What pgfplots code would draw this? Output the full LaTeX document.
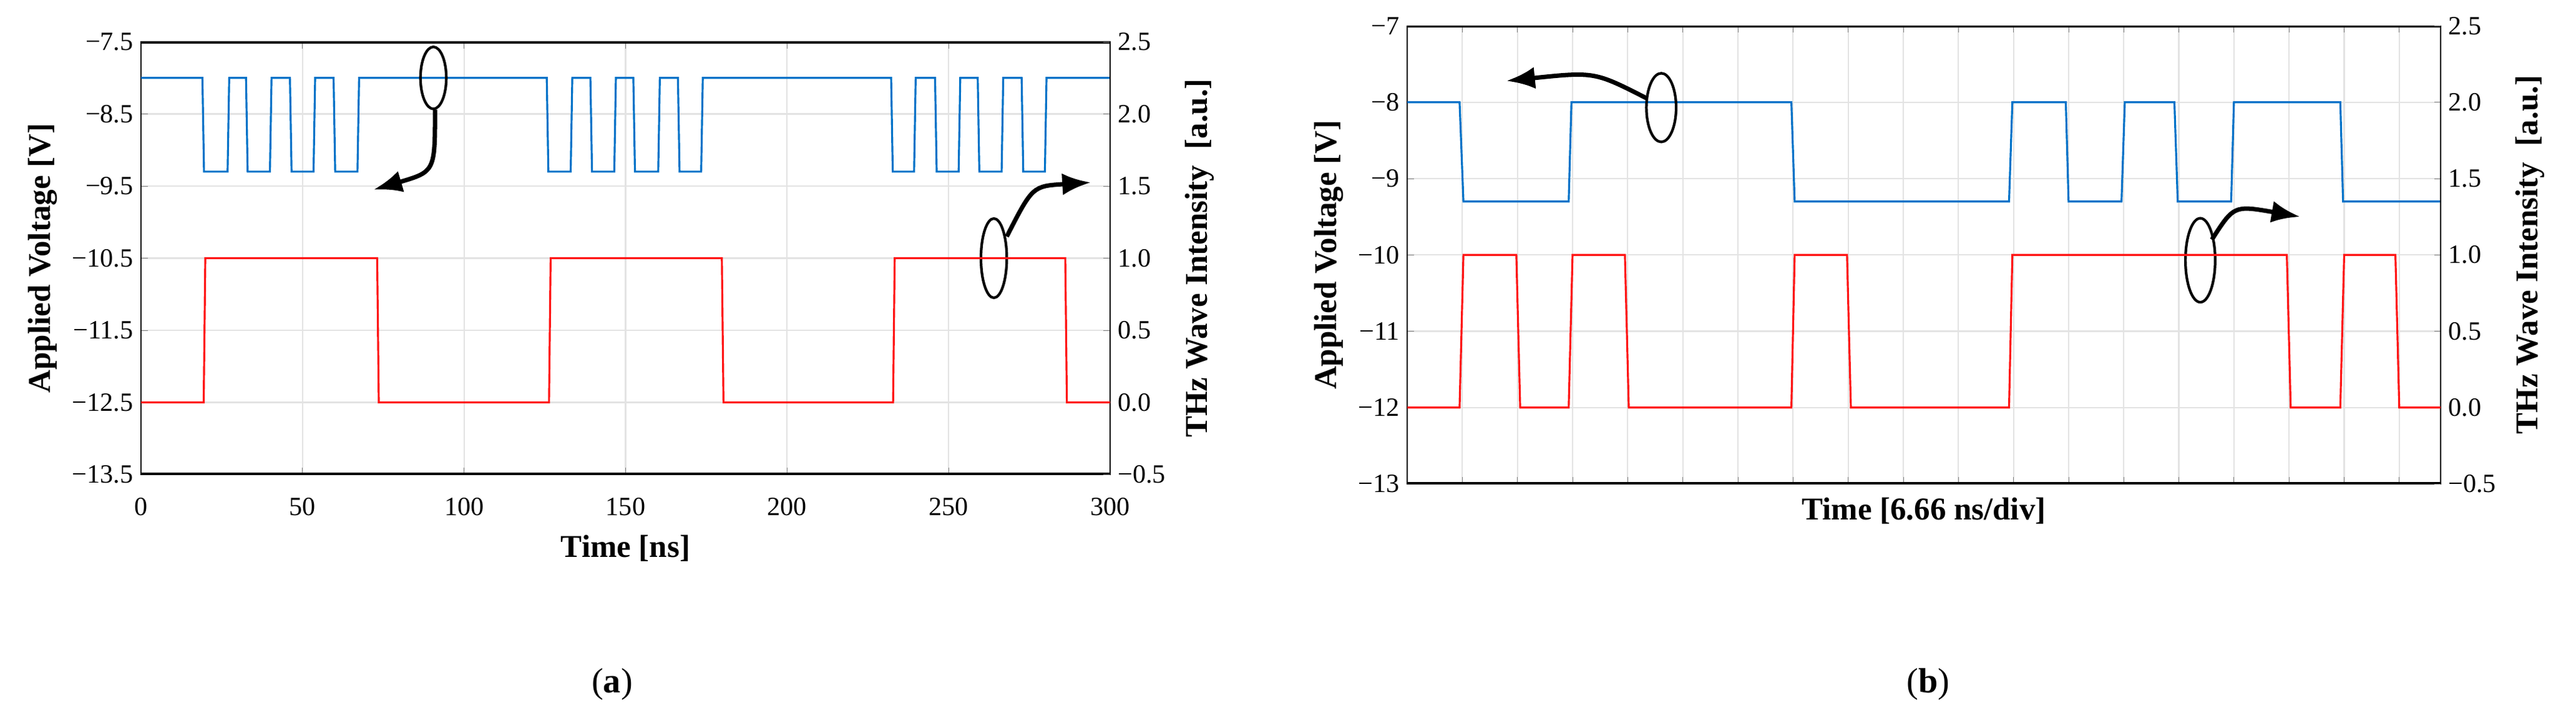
\documentclass[border=0pt]{standalone}
\usepackage{pgfplots}
\pgfplotsset{compat=1.18}
\usetikzlibrary{arrows.meta}
\usepackage{fontspec}
\setmainfont{Liberation Serif}
\definecolor{bl}{RGB}{0,114,200}
\definecolor{rd}{RGB}{255,20,20}
\tikzset{ar/.style={line width=2pt,-{Latex[length=13pt,width=10pt]}}}
\pgfplotsset{
  base/.style={scale only axis, tick label style={font=\fontsize{12}{14}\selectfont},
    label style={font=\fontsize{14.5}{17}\selectfont\bfseries},
    /pgf/number format/assume math mode=true, tick align=inside, major tick length=3pt,
    axis line style={black, line width=0.5pt}},
}
\begin{document}
\begin{tikzpicture}[x=1cm,y=1cm]
\path[use as bounding box] (0,0) rectangle (41.28,-11.58);
% ---------- (a)
\begin{axis}[base, at={(2.26cm,-7.60cm)}, anchor=south west, width=15.53cm, height=6.93cm,
  xmin=0, xmax=300, ymin=-13.5, ymax=-7.5, xtick={0,50,...,300},
  ytick={-13.5,-12.5,-11.5,-10.5,-9.5,-8.5,-7.5},
  yticklabels={−13.5,−12.5,−11.5,−10.5,−9.5,−8.5,−7.5},
  xticklabel style={yshift=-7pt},
  grid=major, grid style={gray!22, line width=0.6pt},
  xlabel={Time [ns]}, ylabel={Applied Voltage [V]},
  xlabel style={yshift=-2pt}, ylabel style={yshift=0pt}]
\addplot[bl, line width=0.9pt] coordinates {(0,-8)(19,-8)(19.5,-9.3)(26.8,-9.3)(27.3,-8)(32.5,-8)(33,-9.3)(39.9,-9.3)(40.4,-8)(46.1,-8)(46.6,-9.3)(53.4,-9.3)(53.9,-8)(59.6,-8)(60.1,-9.3)(67,-9.3)(67.5,-8)(125.6,-8)(126.1,-9.3)(133,-9.3)(133.5,-8)(139.1,-8)(139.6,-9.3)(146.5,-9.3)(147,-8)(152.4,-8)(152.9,-9.3)(160.1,-9.3)(160.6,-8)(166.2,-8)(166.7,-9.3)(173.4,-9.3)(173.9,-8)(232.2,-8)(232.7,-9.3)(239.3,-9.3)(239.8,-8)(245.8,-8)(246.3,-9.3)(253.1,-9.3)(253.6,-8)(259,-8)(259.5,-9.3)(266.4,-9.3)(266.9,-8)(272.6,-8)(273.1,-9.3)(279.8,-9.3)(280.3,-8)(300,-8)};
\draw[line width=1.2pt] (axis cs:90.5,-8) ellipse [x radius=4, y radius=0.43];
\draw[ar] (axis cs:91,-8.44) .. controls (axis cs:91,-9.3) .. (axis cs:72,-9.55);
\draw[line width=1.2pt] (axis cs:264,-10.5) ellipse [x radius=4, y radius=0.55];
\draw[ar] (axis cs:268,-10.2) .. controls (axis cs:276,-9.5) .. (axis cs:294,-9.45);
\draw[line width=1.5pt] (rel axis cs:0,1)--(rel axis cs:1,1) (rel axis cs:0,0)--(rel axis cs:1,0);
\end{axis}
\begin{axis}[base, at={(2.26cm,-7.60cm)}, anchor=south west, width=15.53cm, height=6.93cm,
  xmin=0, xmax=300, ymin=-0.5, ymax=2.5, axis y line*=right, axis x line=none,
  ytick={-0.5,0,0.5,1,1.5,2,2.5}, yticklabels={−0.5,0.0,0.5,1.0,1.5,2.0,2.5},
  ylabel={THz Wave Intensity \ [a.u.]}, ylabel style={yshift=-2pt}]
\addplot[rd, line width=0.9pt] coordinates {(0,0)(19.4,0)(19.9,1)(73.1,1)(73.6,0)(126.3,0)(126.8,1)(179.8,1)(180.3,0)(232.8,0)(233.3,1)(286.1,1)(286.6,0)(300,0)};
\end{axis}
\node[font=\fontsize{16}{18}\selectfont] at (9.81,-10.96) {(\textbf{a})};
% ---------- (b)
\begin{axis}[base, at={(22.55cm,-7.75cm)}, anchor=south west, width=16.56cm, height=7.335cm,
  xmin=0, xmax=18.75, ymin=-13, ymax=-7, xtick={0,...,18}, xticklabels={},
  ytick={-13,...,-7}, yticklabels={−13,−12,−11,−10,−9,−8,−7},
  grid=major, grid style={gray!22, line width=0.6pt},
  xlabel={Time [6.66 ns/div]}, ylabel={Applied Voltage [V]},
  xlabel style={yshift=4pt}, ylabel style={yshift=0pt}]
\addplot[bl, line width=0.9pt] coordinates {(0,-8)(0.95,-8)(1.02,-9.3)(2.93,-9.3)(2.98,-8)(6.97,-8)(7.03,-9.3)(10.92,-9.3)(10.98,-8)(11.95,-8)(12.0,-9.3)(12.96,-9.3)(13.02,-8)(13.92,-8)(13.98,-9.3)(14.95,-9.3)(15.0,-8)(16.93,-8)(16.98,-9.3)(18.75,-9.3)};
\draw[line width=1.2pt] (axis cs:4.61,-8.07) ellipse [x radius=0.27, y radius=0.45];
\draw[ar] (axis cs:4.35,-7.95) .. controls (axis cs:3.4,-7.6) .. (axis cs:1.8,-7.72);
\draw[line width=1.2pt] (axis cs:14.39,-10.07) ellipse [x radius=0.27, y radius=0.55];
\draw[ar] (axis cs:14.6,-9.8) .. controls (axis cs:15.0,-9.35) .. (axis cs:16.2,-9.5);
\draw[line width=1.5pt] (rel axis cs:0,1)--(rel axis cs:1,1) (rel axis cs:0,0)--(rel axis cs:1,0);
\end{axis}
\begin{axis}[base, at={(22.55cm,-7.75cm)}, anchor=south west, width=16.56cm, height=7.335cm,
  xmin=0, xmax=18.75, ymin=-0.5, ymax=2.5, axis y line*=right, axis x line=none,
  ytick={-0.5,0,0.5,1,1.5,2,2.5}, yticklabels={−0.5,0.0,0.5,1.0,1.5,2.0,2.5},
  ylabel={THz Wave Intensity \ [a.u.]}, ylabel style={yshift=-2pt}]
\addplot[rd, line width=0.9pt] coordinates {(0,0)(0.95,0)(1.02,1)(1.98,1)(2.05,0)(2.93,0)(3.0,1)(3.95,1)(4.02,0)(6.97,0)(7.03,1)(7.98,1)(8.05,0)(10.92,0)(10.98,1)(15.96,1)(16.03,0)(16.93,0)(17.0,1)(17.93,1)(18.0,0)(18.75,0)};
\end{axis}
\node[font=\fontsize{16}{18}\selectfont] at (30.9,-10.96) {(\textbf{b})};
\end{tikzpicture}
\end{document}
